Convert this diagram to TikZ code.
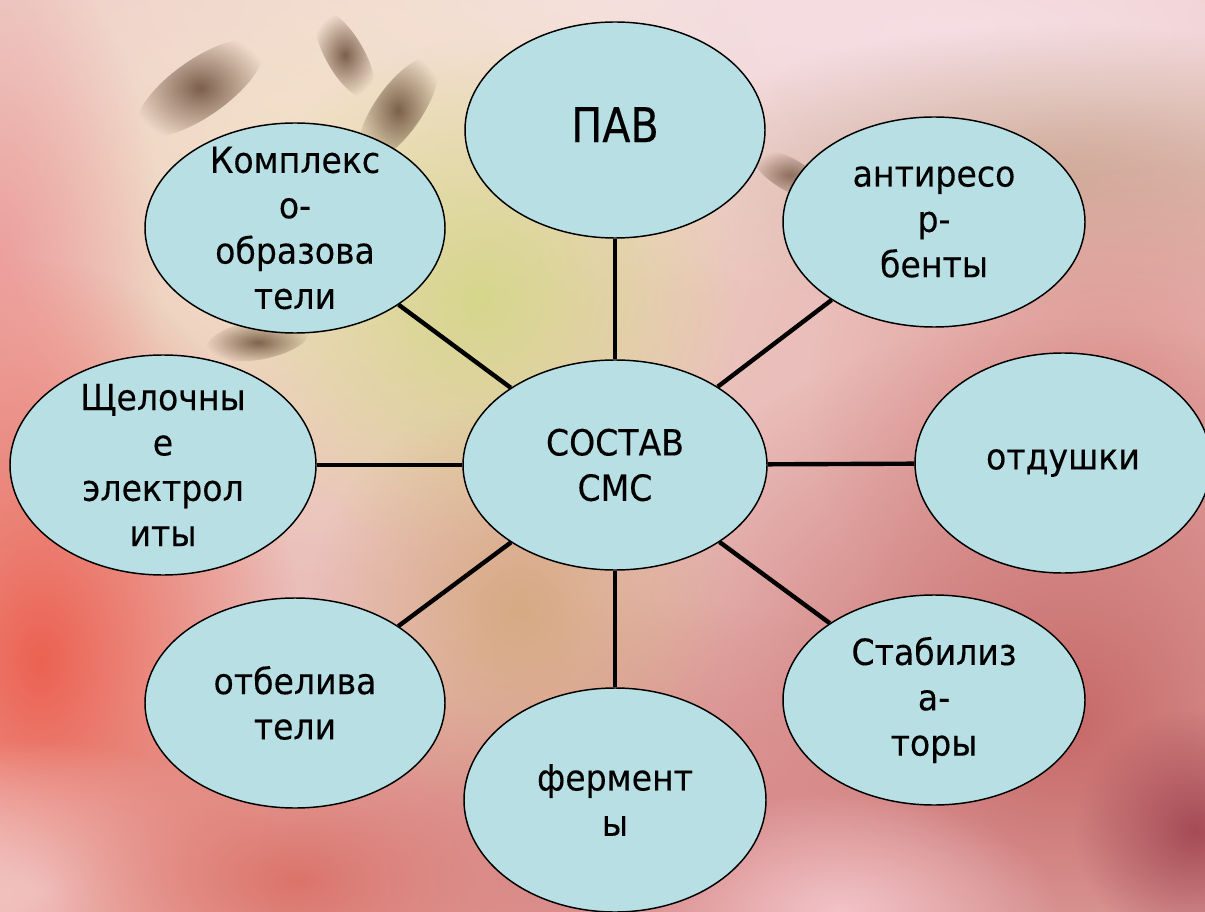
\documentclass[tikz,border=0pt]{standalone}
\usepackage{fontspec}
\setmainfont{DejaVu Sans}[FakeStretch=0.92, FakeBold=0.3]
\newfontfamily\pavfont{DejaVu Sans}[FakeStretch=0.86, FakeBold=0.3]
\usetikzlibrary{shapes.geometric,fadings}
\tikzfading[name=soft, inner color=transparent!0, outer color=transparent!100]
\definecolor{bubble}{RGB}{184,224,228}
\definecolor{bgbase}{RGB}{234,190,186}
\newcommand{\blob}[5]{\fill[#5, path fading=soft] (#1,#2) ellipse [x radius=#3, y radius=#4];}
\newcommand{\streak}[5]{\fill[#5, opacity=0.8, path fading=soft, rotate around={#4:(#1,#2)}] (#1,#2) ellipse [x radius=#3, y radius=0.38*#3];}
\begin{document}
\begin{tikzpicture}[x=0.75pt,y=-0.75pt,
  bub/.style={ellipse, draw=black, line width=1.1pt, fill=bubble, inner sep=0pt},
  sz/.style 2 args={minimum width=#1*0.75pt, minimum height=#2*0.75pt},
  txt/.style={align=center, inner sep=0pt, font=\fontsize{27}{34}\selectfont},
  link/.style={line width=3.3pt, line cap=butt}]
\useasboundingbox (0,0) rectangle (1205,912);
\clip (0,0) rectangle (1205,912);
% background
\fill[bgbase] (0,0) rectangle (1205,912);
\blob{600}{0}{950}{300}{color={rgb,255:red,246;green,224;blue,226}}
\blob{950}{30}{600}{160}{color={rgb,255:red,246;green,222;blue,228}}
\blob{1060}{175}{400}{150}{color={rgb,255:red,206;green,178;blue,158}}
\blob{1110}{400}{300}{300}{color={rgb,255:red,222;green,150;blue,146}}
\blob{340}{210}{480}{380}{color={rgb,255:red,243;green,229;blue,200}}
\blob{480}{300}{260}{260}{color={rgb,255:red,214;green,214;blue,140}}
\blob{0}{260}{160}{320}{color={rgb,255:red,236;green,160;blue,158}}
\blob{40}{660}{260}{400}{color={rgb,255:red,236;green,98;blue,82}}
\blob{40}{890}{240}{150}{color={rgb,255:red,248;green,220;blue,220}}
\blob{300}{880}{360}{200}{color={rgb,255:red,220;green,115;blue,105}}
\blob{1060}{720}{480}{400}{color={rgb,255:red,198;green,104;blue,104}}
\blob{640}{860}{380}{260}{color={rgb,255:red,214;green,130;blue,130}}
\blob{840}{912}{220}{120}{color={rgb,255:red,242;green,195;blue,200}}
\blob{1195}{830}{120}{120}{color={rgb,255:red,165;green,75;blue,85}}
\blob{520}{610}{210}{210}{color={rgb,255:red,214;green,170;blue,130}}
\streak{200}{88}{75}{35}{color={rgb,255:red,95;green,65;blue,45}}
\streak{345}{55}{50}{-60}{color={rgb,255:red,95;green,65;blue,45}}
\streak{398}{110}{62}{55}{color={rgb,255:red,95;green,65;blue,45}}
\streak{258}{340}{52}{10}{color={rgb,255:red,100;green,72;blue,50}}
\streak{790}{175}{42}{-30}{color={rgb,255:red,120;green,90;blue,70}}
% nodes
\node[bub, sz={304}{210}, label={[txt]center:СОСТАВ\\СМС}] (c) at (615,465) {};
\node[bub, sz={300}{216}, label={[txt, font=\fontsize{36}{40}\pavfont, yshift=4pt]center:ПАВ}] (pav) at (615,130) {};
\node[bub, sz={300}{210}, label={[txt]center:Комплекс\\о-\\образова\\тели}] (komp) at (295,228) {};
\node[bub, sz={302}{210}, label={[txt]center:антиресо\\р-\\бенты}] (anti) at (934,222) {};
\node[bub, sz={306}{220}, label={[txt]center:Щелочны\\е\\электрол\\иты}] (shch) at (163,465) {};
\node[bub, sz={296}{220}, label={[txt]center:отдушки}] (otd) at (1063,463) {};
\node[bub, sz={300}{210}, label={[txt]center:отбелива\\тели}] (otb) at (295,703) {};
\node[bub, sz={302}{224}, label={[txt]center:фермент\\ы}] (ferm) at (615,800) {};
\node[bub, sz={302}{210}, label={[txt]center:Стабилиз\\а-\\торы}] (stab) at (934,700) {};
% connectors
\foreach \n in {pav,komp,anti,shch,otd,otb,ferm,stab}
  \draw[link] (c) -- (\n);
\end{tikzpicture}
\end{document}
